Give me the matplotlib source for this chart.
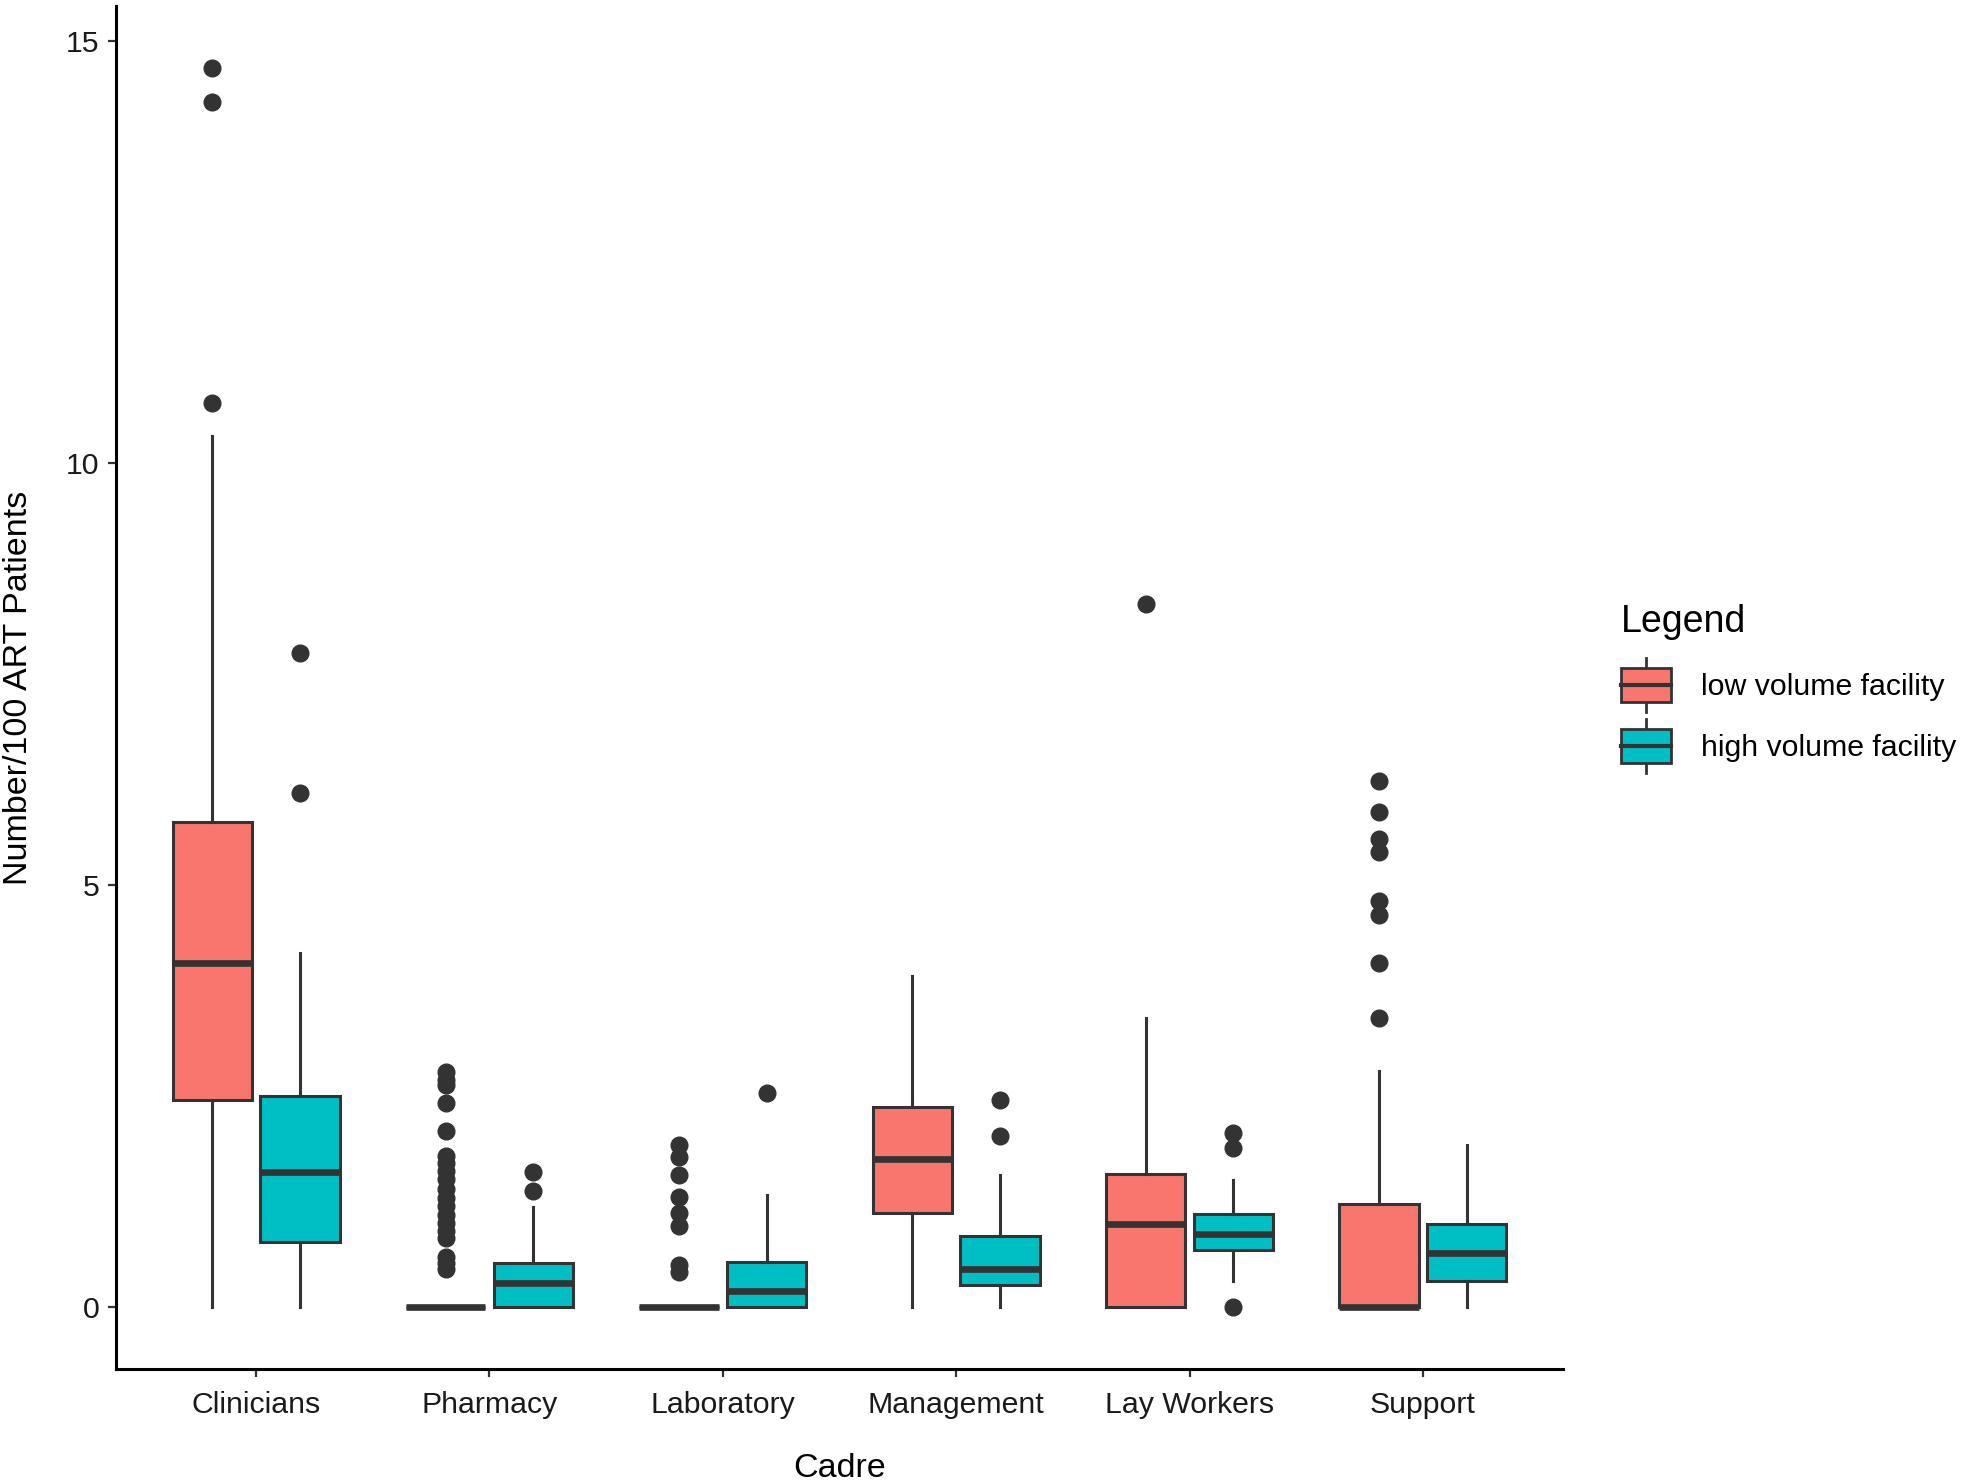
import matplotlib
matplotlib.use("Agg")
import matplotlib.pyplot as plt
from matplotlib.legend_handler import HandlerBase
from matplotlib.patches import Rectangle
from matplotlib.lines import Line2D
import numpy as np

plt.rcParams['font.family'] = ['Liberation Sans', 'DejaVu Sans']

categories = ["Clinicians", "Pharmacy", "Laboratory", "Management", "Lay Workers", "Support"]
groups = ["low volume facility", "high volume facility"]
colors = ["#F8766D", "#00BFC4"]

low_whislo = [0, 0, 0, 0, 0, 0]
low_q1 = [2.46, 0, 0, 1.12, 0, 0]
low_med = [4.08, 0, 0, 1.76, 0.99, 0]
low_q3 = [5.75, 0, 0, 2.38, 1.58, 1.23]
low_whishi = [10.33, 0, 0, 3.93, 3.43, 2.80]
low_fliers = [
    [14.69, 14.28, 10.71],
    [2.79, 2.69, 2.63, 2.42, 2.09, 1.79, 1.71, 1.62, 1.52, 1.40, 1.30, 1.20,
     1.10, 1.00, 0.90, 0.82, 0.60, 0.52, 0.46],
    [1.92, 1.78, 1.57, 1.31, 1.12, 0.96, 0.50, 0.42],
    [],
    [8.33],
    [6.24, 5.87, 5.55, 5.40, 4.81, 4.65, 4.08, 3.43],
]

high_whislo = [0, 0, 0, 0, 0.31, 0]
high_q1 = [0.78, 0, 0, 0.27, 0.68, 0.31]
high_med = [1.60, 0.29, 0.19, 0.46, 0.87, 0.65]
high_q3 = [2.50, 0.53, 0.54, 0.84, 1.11, 0.99]
high_whishi = [4.20, 1.19, 1.33, 1.57, 1.51, 1.92]
high_fliers = [
    [7.75, 6.09],
    [1.61, 1.38],
    [2.54],
    [2.46, 2.03],
    [2.07, 1.89, 0.0],
    [],
]

yticks = [0, 5, 10, 15]

dark = "#333333"

fig = plt.figure(figsize=(19.61, 14.80), dpi=100)
ax = fig.add_axes([0.0592, 0.075, 0.7378, 0.921])


def make_stats(wlo, q1, med, q3, whi, fl):
    return [dict(whislo=a, q1=b, med=c, q3=d, whishi=e, fliers=f)
            for a, b, c, d, e, f in zip(wlo, q1, med, q3, whi, fl)]


sets = [
    make_stats(low_whislo, low_q1, low_med, low_q3, low_whishi, low_fliers),
    make_stats(high_whislo, high_q1, high_med, high_q3, high_whishi, high_fliers),
]

base = np.arange(1, len(categories) + 1)
offsets = [-0.1875, 0.1875]
lw = 2.2
for stats, off, col in zip(sets, offsets, colors):
    ax.bxp(stats, positions=base + off, widths=0.34, patch_artist=True,
           showcaps=False,
           boxprops=dict(facecolor=col, edgecolor=dark, linewidth=lw),
           whiskerprops=dict(color=dark, linewidth=lw),
           medianprops=dict(color=dark, linewidth=4.8, solid_capstyle='butt'),
           flierprops=dict(marker='o', markerfacecolor=dark, markeredgecolor=dark,
                           markersize=12, linestyle='none'),
           manage_ticks=False, zorder=2)

ax.set_xlim(0.4, 6.6)
ax.set_ylim(-0.73, 15.42)
ax.set_xticks(base)
ax.set_xticklabels(categories, fontsize=21.8)
ax.set_yticks(yticks)
ax.set_yticklabels([str(t) for t in yticks], fontsize=21.8)
ax.tick_params(axis='both', colors='#333333', labelcolor='#1a1a1a', length=6, width=1.6, pad=6)
ax.tick_params(axis='x', pad=10)
for s in ['top', 'right']:
    ax.spines[s].set_visible(False)
for s in ['left', 'bottom']:
    ax.spines[s].set_linewidth(2.2)
    ax.spines[s].set_color('black')

ax.set_xlabel("Cadre", fontsize=24.5, labelpad=24)
ax.set_ylabel("Number/100 ART Patients", fontsize=24.5, labelpad=23)


class BoxHandler(HandlerBase):
    def create_artists(self, legend, orig_handle, xdescent, ydescent,
                       width, height, fontsize, trans):
        col = orig_handle.get_facecolor()
        bx0 = xdescent
        bw = width
        bh = height * 1.15
        by0 = -ydescent + (height - bh) / 2
        rect = Rectangle((bx0, by0), bw, bh, facecolor=col, edgecolor=dark,
                         linewidth=2.0, transform=trans)
        cx = bx0 + bw / 2
        med = Line2D([bx0, bx0 + bw], [by0 + bh / 2] * 2, color=dark, linewidth=3.0,
                     transform=trans)
        w1 = Line2D([cx, cx], [by0 + bh, by0 + bh + height * 0.35], color=dark,
                    linewidth=2.0, transform=trans)
        w2 = Line2D([cx, cx], [by0, by0 - height * 0.35], color=dark,
                    linewidth=2.0, transform=trans)
        return [w1, w2, rect, med]


handles = [Rectangle((0, 0), 1, 1, facecolor=c) for c in colors]
leg = fig.legend(handles, groups, handler_map={Rectangle: BoxHandler()},
                 title="Legend", loc='upper left', bbox_to_anchor=(0.8205, 0.6),
                 frameon=False, fontsize=21.8, title_fontsize=27,
                 handlelength=1.65, handleheight=1.1, labelspacing=1.0,
                 handletextpad=1.0, borderaxespad=0)
leg._legend_box.align = "left"

fig.savefig("out.png", dpi=100, facecolor='white')
